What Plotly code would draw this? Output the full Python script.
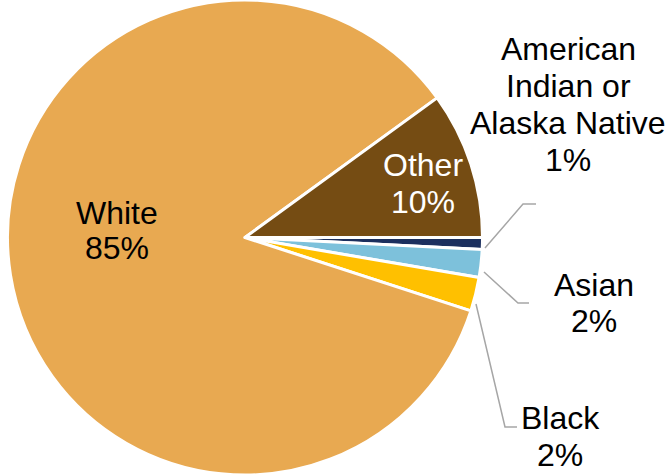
import plotly.graph_objects as go

# Data (clockwise from 3 o'clock)
categories = ["American Indian or Alaska Native", "Asian", "Black", "White", "Other"]
values = [0.8, 1.9, 2.3, 85.0, 10.0]
colors = ["#1B2F5E", "#7DC1DB", "#FFC000", "#E8A951", "#754C13"]

W, H = 667, 475

fig = go.Figure(go.Pie(
    labels=categories,
    values=values,
    sort=False,
    direction="clockwise",
    rotation=90,
    textinfo="none",
    hoverinfo="label+percent",
    marker=dict(colors=colors, line=dict(color="white", width=3)),
    domain=dict(x=[0, 490 / W], y=[0, 1]),
    showlegend=False,
))

total = sum(values)
pct = {c: f"{round(v / total * 100)}%" for c, v in zip(categories, values)}

# label line layout: (category, lines, x center px, y centers px, color)
label_specs = [
    ("White", ["White", pct["White"]], 117, [213, 248], "black"),
    ("Other", ["Other", pct["Other"]], 423, [165, 202], "white"),
    ("American Indian or Alaska Native",
     ["American", "Indian or", "Alaska Native", pct["American Indian or Alaska Native"]],
     568, [49, 86, 123, 160], "black"),
    ("Asian", ["Asian", pct["Asian"]], 594, [285, 321], "black"),
    ("Black", ["Black", pct["Black"]], 560, [418, 455], "black"),
]

annotations = []
for cat, lines, xc, ys, col in label_specs:
    for txt, yc in zip(lines, ys):
        annotations.append(dict(
            text=txt, x=xc / W, y=1 - yc / H, xref="paper", yref="paper",
            xanchor="center", yanchor="middle", showarrow=False,
            font=dict(family="Liberation Sans, Arial", size=32, color=col),
        ))

# leader lines (pixel coords)
leaders = [
    [(485, 248), (523, 204), (536, 204)],
    [(484, 272), (518, 303), (529, 303)],
    [(476, 304), (505, 427), (517, 427)],
]
shapes = []
for pts in leaders:
    path = "M " + " L ".join(f"{x / W},{1 - y / H}" for x, y in pts)
    shapes.append(dict(type="path", path=path, xref="paper", yref="paper",
                       line=dict(color="#A6A6A6", width=1.5)))

fig.update_layout(
    width=W, height=H,
    margin=dict(l=0, r=0, t=0, b=0),
    paper_bgcolor="white", plot_bgcolor="white",
    annotations=annotations, shapes=shapes,
)

fig.write_html("out.html", config={"displayModeBar": False},
               post_script="document.body.style.margin='0';")
